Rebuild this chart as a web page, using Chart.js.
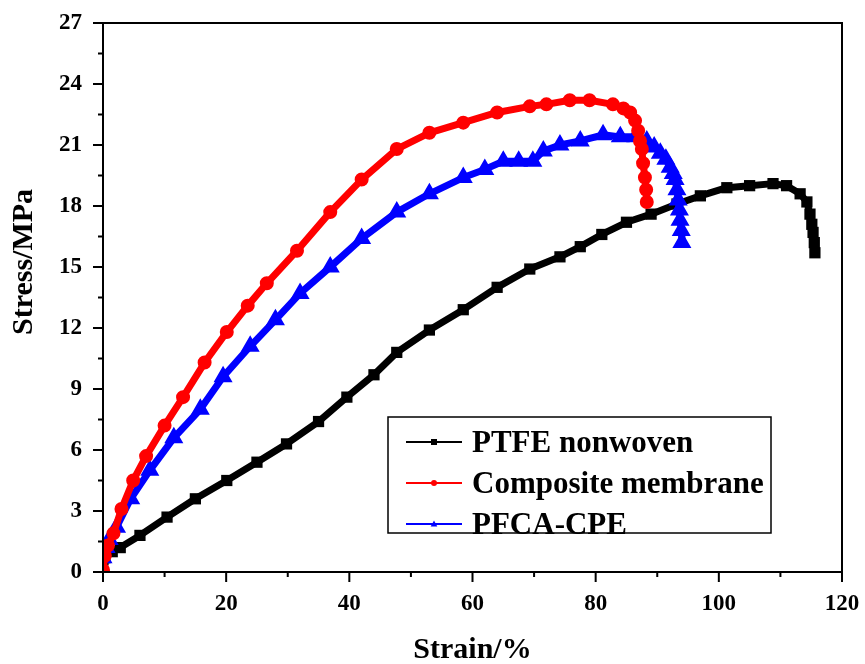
<!DOCTYPE html>
<html>
<head>
<meta charset="utf-8">
<script src="https://cdn.jsdelivr.net/npm/chart.js@4.4.1/dist/chart.umd.min.js"></script>
<style>
html, body { margin: 0; padding: 0; background: #fff; }
</style>
</head>
<body>
<canvas id="stress_strain" width="865" height="664"></canvas>
<script>
// PTFE nonwoven (black squares)
var ptfeStrain = [0, 0.3, 1.5, 2.8, 6, 10.4, 15, 20.1, 25, 29.8, 35, 39.6, 44, 47.7, 53, 58.5, 64, 69.3, 74.2, 77.5, 81, 85, 89, 93.2, 97, 101.3, 105, 108.8, 111, 113.2, 114.3, 114.8, 115.1, 115.3, 115.5, 115.6];
var ptfeStress = [0.6, 0.7, 1.0, 1.2, 1.8, 2.7, 3.6, 4.5, 5.4, 6.3, 7.4, 8.6, 9.7, 10.8, 11.9, 12.9, 14.0, 14.9, 15.5, 16.0, 16.6, 17.2, 17.6, 18.1, 18.5, 18.9, 19.0, 19.1, 19.0, 18.6, 18.2, 17.6, 17.1, 16.7, 16.2, 15.7];

// Composite membrane (red circles)
var compStrain = [0, 0.3, 0.8, 1.7, 3, 4.9, 7, 10, 13, 16.5, 20.1, 23.5, 26.6, 31.5, 36.9, 42, 47.7, 53, 58.5, 64, 69.3, 72, 75.8, 79, 82.8, 84.5, 85.6, 86.4, 86.9, 87.2, 87.5, 87.7, 88, 88.2, 88.3];
var compStress = [0.1, 0.8, 1.3, 1.9, 3.1, 4.5, 5.7, 7.2, 8.6, 10.3, 11.8, 13.1, 14.2, 15.8, 17.7, 19.3, 20.8, 21.6, 22.1, 22.6, 22.9, 23.0, 23.2, 23.2, 23.0, 22.8, 22.6, 22.2, 21.7, 21.2, 20.8, 20.1, 19.4, 18.8, 18.2];

// PFCA-CPE (blue triangles)
var cpeStrain = [0, 0.5, 1, 2.2, 4.5, 7.6, 11.5, 15.8, 19.5, 23.9, 28, 32, 36.9, 42, 47.7, 53, 58.5, 62, 65, 67.5, 69.8, 71.5, 74.2, 77.5, 81.2, 84, 86.5, 88.3, 89.5, 90.5, 91.4, 92.1, 92.6, 92.9, 93.2, 93.4, 93.6, 93.7, 93.9, 94];
var cpeStress = [0.7, 1.2, 1.6, 2.2, 3.6, 5.0, 6.6, 8.0, 9.6, 11.1, 12.4, 13.7, 15.0, 16.4, 17.7, 18.6, 19.4, 19.8, 20.2, 20.2, 20.2, 20.7, 21.0, 21.2, 21.5, 21.4, 21.4, 21.2, 20.9, 20.6, 20.3, 19.9, 19.6, 19.3, 18.8, 18.3, 17.8, 17.3, 16.8, 16.2];

var seriesNames = ["PTFE nonwoven", "Composite membrane", "PFCA-CPE"];
var xTitle = "Strain/%";
var yTitle = "Stress/MPa";

var serif = "'Liberation Serif', 'Times New Roman', serif";

function toPoints(xs, ys) {
    return xs.map(function(x, i) { return { x: x, y: ys[i] }; });
}

function drawMarker(ctx, style, x, y, r) {
    ctx.beginPath();
    if (style === 'rect') {
        ctx.rect(x - r, y - r, 2 * r, 2 * r);
    } else if (style === 'triangle') {
        ctx.moveTo(x, y - r * 1.2);
        ctx.lineTo(x + r * 1.1, y + r * 0.8);
        ctx.lineTo(x - r * 1.1, y + r * 0.8);
        ctx.closePath();
    } else {
        ctx.arc(x, y, r, 0, Math.PI * 2);
    }
    ctx.fill();
}

// frame, ticks with minors, axis titles and legend box
var decorPlugin = {
    id: 'decor',
    afterDraw: function(chart) {
        var ctx = chart.ctx;
        var a = chart.chartArea;
        var xs = chart.scales.x, ys = chart.scales.y;
        ctx.save();
        ctx.strokeStyle = '#000';
        ctx.lineWidth = 2;
        ctx.strokeRect(a.left, a.top, a.right - a.left, a.bottom - a.top);

        ctx.beginPath();
        xs.ticks.forEach(function(t, i) {
            var px = xs.getPixelForValue(t.value);
            ctx.moveTo(px, a.bottom); ctx.lineTo(px, a.bottom + 10);
            if (i < xs.ticks.length - 1) {
                var mx = xs.getPixelForValue((t.value + xs.ticks[i + 1].value) / 2);
                ctx.moveTo(mx, a.bottom); ctx.lineTo(mx, a.bottom + 5);
            }
        });
        ys.ticks.forEach(function(t, i) {
            var py = ys.getPixelForValue(t.value);
            ctx.moveTo(a.left, py); ctx.lineTo(a.left - 10, py);
            if (i < ys.ticks.length - 1) {
                var my = ys.getPixelForValue((t.value + ys.ticks[i + 1].value) / 2);
                ctx.moveTo(a.left, my); ctx.lineTo(a.left - 5, my);
            }
        });
        ctx.stroke();

        // axis titles
        ctx.fillStyle = '#000';
        ctx.font = 'bold 30px ' + serif;
        ctx.textAlign = 'center';
        ctx.textBaseline = 'middle';
        ctx.fillText(xTitle, (a.left + a.right) / 2, 650);
        ctx.save();
        ctx.translate(24, 262);
        ctx.rotate(-Math.PI / 2);
        ctx.fillText(yTitle, 0, 0);
        ctx.restore();

        // legend
        var bx = 388, by = 417, bw = 383, bh = 116;
        ctx.lineWidth = 1.5;
        ctx.strokeRect(bx, by, bw, bh);
        ctx.font = 'bold 31px ' + serif;
        ctx.textAlign = 'left';
        chart.data.datasets.forEach(function(ds, i) {
            var ry = by + 25 + i * 41;
            ctx.strokeStyle = ds.borderColor;
            ctx.fillStyle = ds.borderColor;
            ctx.lineWidth = 2;
            ctx.beginPath();
            ctx.moveTo(bx + 18, ry); ctx.lineTo(bx + 74, ry);
            ctx.stroke();
            drawMarker(ctx, ds.pointStyle, bx + 46, ry, 3);
            ctx.fillStyle = '#000';
            ctx.fillText(ds.label, bx + 84, ry + 2);
        });
        ctx.restore();
    }
};

var canvas = document.getElementById("stress_strain");

var ptfeData = {
    label: seriesNames[0],
    data: toPoints(ptfeStrain, ptfeStress),
    borderColor: '#000000',
    backgroundColor: '#000000',
    borderWidth: 7,
    borderJoinStyle: 'round',
    borderCapStyle: 'round',
    pointStyle: 'rect',
    pointRadius: 3,
    tension: 0,
    order: 3
};

var compData = {
    label: seriesNames[1],
    data: toPoints(compStrain, compStress),
    borderColor: '#ff0000',
    backgroundColor: '#ff0000',
    borderWidth: 7,
    borderJoinStyle: 'round',
    borderCapStyle: 'round',
    pointStyle: 'circle',
    pointRadius: 3.5,
    tension: 0,
    order: 1
};

var cpeData = {
    label: seriesNames[2],
    data: toPoints(cpeStrain, cpeStress),
    borderColor: '#0000ff',
    backgroundColor: '#0000ff',
    borderWidth: 7,
    borderJoinStyle: 'round',
    borderCapStyle: 'round',
    pointStyle: 'triangle',
    pointRadius: 4,
    tension: 0,
    order: 2
};

var chartOptions = {
    responsive: false,
    animation: false,
    layout: { padding: { top: 23, right: 23, left: 0, bottom: 0 } },
    plugins: {
        legend: { display: false },
        tooltip: { enabled: false }
    },
    scales: {
        x: {
            type: 'linear',
            min: 0,
            max: 120,
            grid: { display: false, drawTicks: false },
            border: { display: false },
            ticks: {
                stepSize: 20,
                padding: 18,
                color: '#000',
                maxRotation: 0,
                font: { family: serif, size: 23, weight: 'bold' }
            },
            afterFit: function(s) {
                s.height = 92;
                s.paddingLeft = 0;
                s.paddingRight = 0;
            }
        },
        y: {
            type: 'linear',
            min: 0,
            max: 27,
            grid: { display: false, drawTicks: false },
            border: { display: false },
            ticks: {
                stepSize: 3,
                padding: 21,
                color: '#000',
                font: { family: serif, size: 23, weight: 'bold' }
            },
            afterFit: function(s) {
                s.width = 103;
                s.paddingTop = 0;
                s.paddingBottom = 0;
            }
        }
    }
};

var lineChart = new Chart(canvas, {
    type: 'line',
    data: { datasets: [ptfeData, compData, cpeData] },
    options: chartOptions,
    plugins: [decorPlugin]
});
</script>
</body>
</html>
